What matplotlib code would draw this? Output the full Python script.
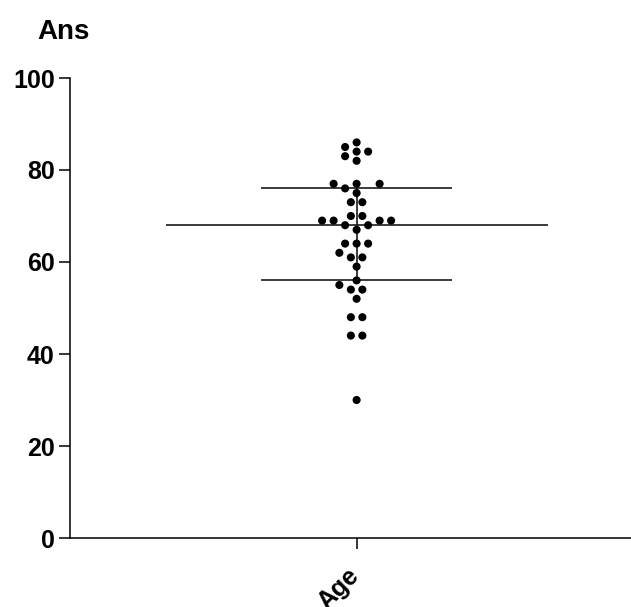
import itertools
import numpy as np
import matplotlib
matplotlib.use("Agg")
import matplotlib.pyplot as plt
import matplotlib.transforms as mtransforms

# values (one dot each)
ages = [86, 85, 84, 84, 83, 82, 77, 77, 77, 76, 75, 73, 73, 70, 70,
        69, 69, 69, 69, 68, 68, 67, 64, 64, 64, 62, 61, 61, 59, 56,
        55, 54, 54, 52, 48, 48, 44, 44, 30]
category = "Age"
title = "Ans"
yticks = [0, 20, 40, 60, 80, 100]

plt.rcParams['font.family'] = ['Liberation Sans', 'DejaVu Sans']
plt.rcParams['font.weight'] = 'bold'

fig = plt.figure(figsize=(6.31, 6.07), dpi=100)
ax = fig.add_axes([70 / 631, 69 / 607, 561 / 631, 460 / 607])
ax.set_xlim(-1.5, 1.436)
ax.set_ylim(0, 100)

# median with interquartile range (Prism style percentiles)
vals = np.array(ages, dtype=float)
med = np.median(vals)
q1, q3 = np.percentile(vals, [25, 75], method='weibull')

# beeswarm on a grid of slots (pixel space): equal values are placed as a
# group, from the bottom up, choosing the narrowest, most balanced layout
p0 = ax.transData.transform((0, 0))
p1 = ax.transData.transform((1, 1))
sx, sy = p1[0] - p0[0], p1[1] - p0[1]
slot = 5.75   # px
dmin = 8.5    # px
placed = []
xs_out, ys_out = [], []
for v in sorted(set(ages)):
    n = ages.count(v)
    y = v * sy
    best = None
    for combo in itertools.combinations(range(-9, 10), n):
        if any(b - a < 2 for a, b in zip(combo, combo[1:])):
            continue
        ok = all((k * slot - px) ** 2 + (y - py) ** 2 >= dmin ** 2
                 for k in combo for px, py in placed)
        if not ok:
            continue
        cost = (max(abs(k) for k in combo), abs(sum(combo)),
                sum(abs(k) for k in combo))
        if best is None or cost < best[0]:
            best = (cost, combo)
    for k in best[1]:
        placed.append((k * slot, y))
        xs_out.append(k * slot / sx)
        ys_out.append(v)

ax.hlines(med, -1, 1, color='#1a1a1a', lw=1.2, zorder=2)
ax.hlines([q1, q3], -0.5, 0.5, color='#1a1a1a', lw=1.2, zorder=2)
ax.vlines(0, q1, q3, color='#1a1a1a', lw=1.2, zorder=2)
ax.scatter(xs_out, ys_out, s=34, color='black', edgecolors='none', zorder=3)

ax.spines['top'].set_visible(False)
ax.spines['right'].set_visible(False)
for s in ['left', 'bottom']:
    ax.spines[s].set_linewidth(1.1)
ax.set_yticks(yticks)
ax.set_xticks([0])
ax.set_xticklabels([category], rotation=45, ha='right', va='top',
                   rotation_mode='anchor')
ax.tick_params(axis='both', length=8, width=1.1, labelsize=18, pad=3)
ax.tick_params(axis='x', pad=6)
shift = mtransforms.ScaledTranslation(-0.10, -0.06, fig.dpi_scale_trans)
for lab in ax.get_xticklabels():
    lab.set_transform(lab.get_transform() + shift)
for lab in ax.get_xticklabels() + ax.get_yticklabels():
    lab.set_fontweight('bold')

fig.text(37 / 631, 1 - 39 / 607, title, fontsize=20, fontweight='bold',
         ha='left', va='baseline')

fig.savefig("out.png", dpi=100)
